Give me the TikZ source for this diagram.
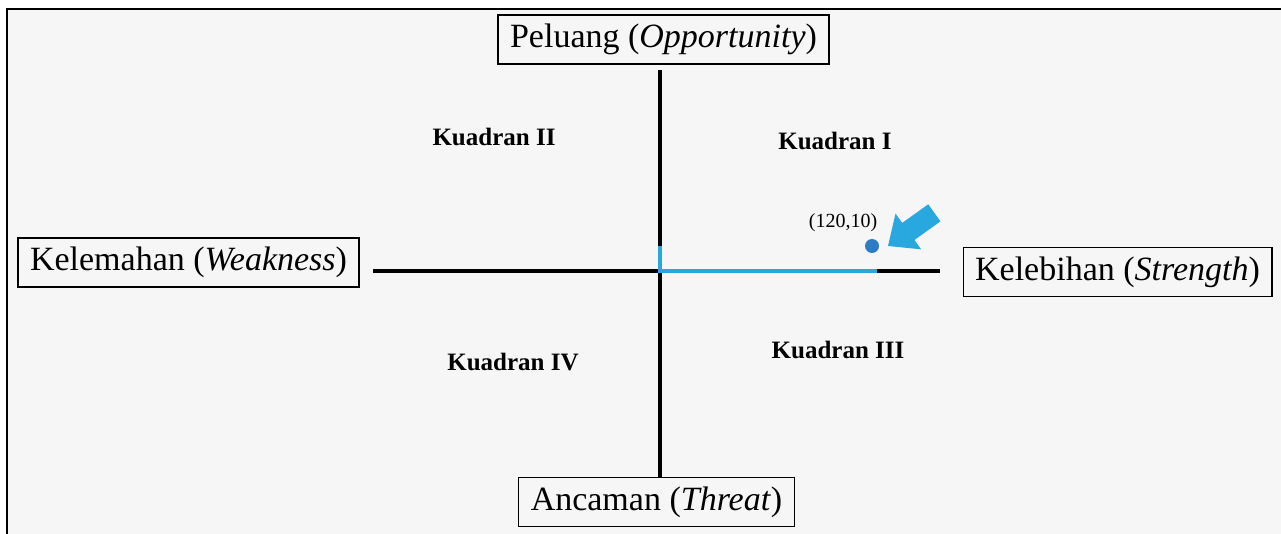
\documentclass[tikz,border=0pt]{standalone}
\usepackage{fontspec}
\setmainfont{Liberation Serif}

\definecolor{paper}{RGB}{246,246,246}
\definecolor{lineblue}{RGB}{41,168,224}
\definecolor{dotblue}{RGB}{46,124,198}

\begin{document}
\begin{tikzpicture}[x=1pt,y=-1pt,
  axisline/.style={line width=4pt},
  axisbox/.style={draw,line width=1.2pt,inner xsep=12pt,inner ysep=0pt,
    minimum height=49pt,font=\fontsize{34}{37}\selectfont},
  quadlabel/.style={font=\fontsize{25}{28}\selectfont\bfseries}]
  \useasboundingbox (0,0) rectangle (1281,534);
  \fill[white] (0,0) rectangle (1281,534);
  \fill[paper] (7,9) rectangle (1281,534);
  \draw[line width=2pt] (7,534) -- (7,9) -- (1281,9);

  \node[axisbox] (peluang) at (663.5,39.5) {Peluang (\textit{Opportunity})};
  \node[axisbox] (kelemahan) at (188.5,262.5) {Kelemahan (\textit{Weakness})};
  \node[axisbox] (kelebihan) at (1117.5,272) {Kelebihan (\textit{Strength})};
  \node[axisbox] (ancaman) at (656.5,502) {Ancaman (\textit{Threat})};

  \coordinate (o) at (660,271);
  \coordinate (vtop) at (660,70);
  \coordinate (hleft) at (373,271);
  \coordinate (hright) at (940,271);
  \draw[axisline] (vtop) -- (ancaman.north -| o);
  \draw[axisline] (hleft) -- (hright);

  \foreach \x/\y/\q in {494/137/II,835/141/I,513/362/IV,838/350/III}
    \node[quadlabel] at (\x,\y) {Kuadran \q};

  % posisi strategi
  \coordinate (sy) at (660,246);
  \coordinate (sx) at (877,271);
  \draw[axisline,lineblue] (sy) -- (o) -- (sx);
  \fill[dotblue] (872,246) circle (7pt);
  \node[font=\fontsize{20}{22}\selectfont] (titik) at (843,223) {(120,10)};
  \begin{scope}[shift={(888,246)},rotate=215.6]
    \fill[lineblue] (0,0) -- (-25,22) -- (-25,10.5) -- (-57,10.5)
      -- (-57,-10.5) -- (-25,-10.5) -- (-25,-22) -- cycle;
  \end{scope}
\end{tikzpicture}
\end{document}
